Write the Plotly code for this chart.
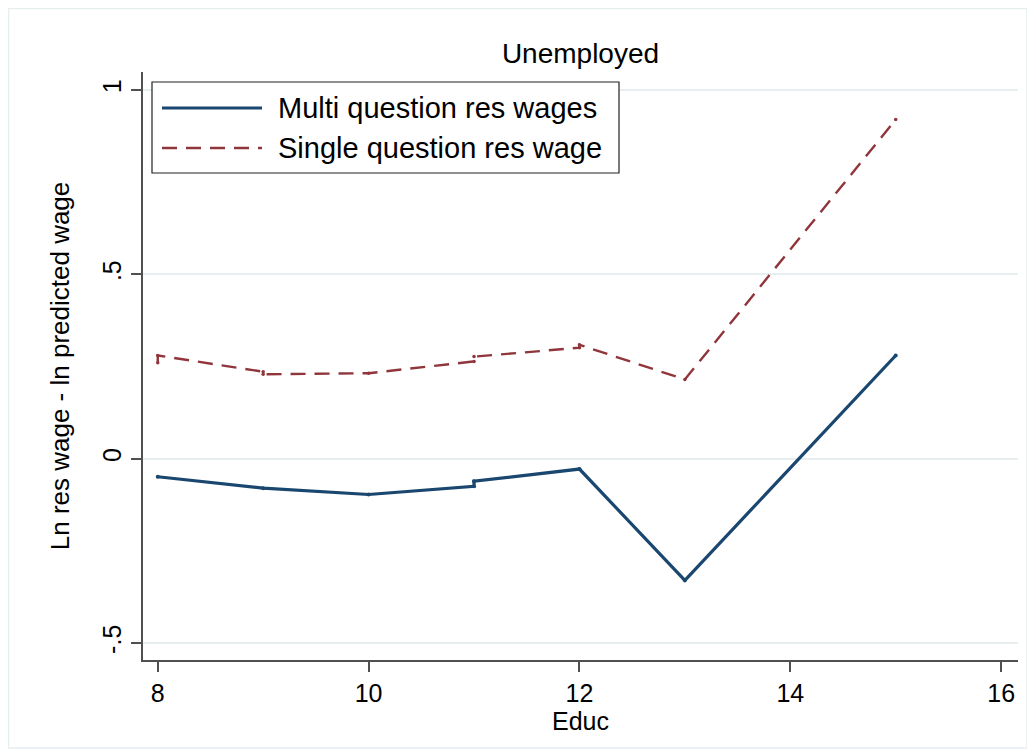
import plotly.graph_objects as go

# Data
educ_multi = [8, 9, 10, 11, 11, 12, 13, 15]
multi_res_wages = [-0.049, -0.080, -0.097, -0.075, -0.061, -0.028, -0.330, 0.280]

educ_single = [8, 8, 9, 9, 10, 11, 11, 12, 12, 13, 15]
single_res_wage = [0.260, 0.280, 0.236, 0.229, 0.232, 0.264, 0.277, 0.301, 0.309, 0.215, 0.920]

series_names = ["Multi question res wages", "Single question res wage"]
x_ticks = [8, 10, 12, 14, 16]
y_ticks = [-0.5, 0, 0.5, 1]
y_tick_text = ["-.5", "0", ".5", "1"]

BLUE = "#1a476f"
RED = "#90353b"
GRID = "#e6eef0"
AXIS = "#505050"
FONT = "Liberation Sans, Arial, sans-serif"

# page has an 8px body margin; geometry below is in screen pixels
OFF = 8
FIG_W, FIG_H = 1035 - OFF, 756 - OFF
L, T = 143, 72          # screen coords of plot area top-left
W, H = 875, 588


def px(x):
    return (x - L) / W


def py(y):
    return (T + H - y) / H


fig = go.Figure()
fig.add_trace(go.Scatter(
    x=educ_multi, y=multi_res_wages, mode="lines+markers", name=series_names[0],
    line=dict(color=BLUE, width=3.2), marker=dict(size=4, color=BLUE), showlegend=False))
fig.add_trace(go.Scatter(
    x=educ_single, y=single_res_wage, mode="lines+markers", name=series_names[1],
    line=dict(color=RED, width=2.4, dash="15px,9px"), marker=dict(size=3.5, color=RED),
    showlegend=False))

shapes = [
    dict(type="rect", xref="paper", yref="paper", x0=px(8.5), x1=px(1027), y0=py(748), y1=py(8.5),
         line=dict(color="#e6eef0", width=1.5), fillcolor="rgba(0,0,0,0)", layer="below"),
    dict(type="rect", xref="paper", yref="paper", x0=px(152), x1=px(619), y0=py(173), y1=py(82),
         line=dict(color="#222222", width=1.2), fillcolor="white", layer="above"),
    dict(type="line", xref="paper", yref="paper", x0=px(162), x1=px(262), y0=py(108), y1=py(108),
         line=dict(color=BLUE, width=3.2)),
    dict(type="line", xref="paper", yref="paper", x0=px(162), x1=px(262), y0=py(148), y1=py(148),
         line=dict(color=RED, width=2.4, dash="15px,9px")),
]
annotations = [
    dict(xref="paper", yref="paper", x=px(276), y=py(108), text=series_names[0], showarrow=False,
         xanchor="left", yanchor="middle", font=dict(size=29, color="black", family=FONT)),
    dict(xref="paper", yref="paper", x=px(276), y=py(148), text=series_names[1], showarrow=False,
         xanchor="left", yanchor="middle", font=dict(size=29, color="black", family=FONT)),
]

fig.update_layout(
    width=FIG_W, height=FIG_H,
    paper_bgcolor="white", plot_bgcolor="white",
    margin=dict(l=L - OFF, r=FIG_W - (L - OFF) - W, t=T - OFF, b=FIG_H - (T - OFF) - H),
    font=dict(family=FONT, color="black"),
    title=dict(text="Unemployed", x=0.5, xref="paper", y=1 - (53 - OFF) / FIG_H, yanchor="middle",
               xanchor="center", font=dict(size=28, family=FONT, color="black")),
    shapes=shapes, annotations=annotations, showlegend=False,
)
fig.update_xaxes(
    range=[7.86, 16.16], tickvals=x_ticks, ticks="outside", ticklen=10, tickwidth=1.5,
    tickcolor=AXIS, showline=True, linecolor=AXIS, linewidth=2, showgrid=False, zeroline=False,
    tickfont=dict(size=25, family=FONT, color="black"),
    title=dict(text="Educ", font=dict(size=25, family=FONT, color="black"), standoff=0),
)
fig.update_yaxes(
    range=[-0.546, 1.049], tickvals=y_ticks, ticktext=y_tick_text, tickangle=-90,
    ticks="outside", ticklen=10, tickwidth=1.5, tickcolor=AXIS,
    showline=True, linecolor=AXIS, linewidth=2, showgrid=True, gridcolor=GRID, gridwidth=2,
    zeroline=False, tickfont=dict(size=25, family=FONT, color="black"),
    title=dict(text="Ln res wage - ln predicted wage", font=dict(size=26, family=FONT, color="black"),
               standoff=21),
)

fig.write_html("out.html")
